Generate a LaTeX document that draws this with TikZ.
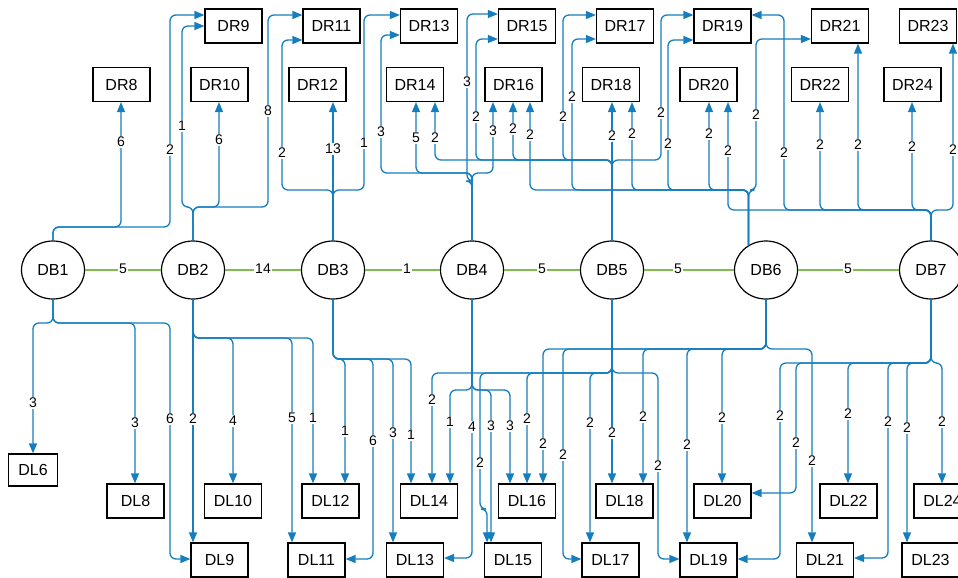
\documentclass[tikz,border=0pt]{standalone}
\usepackage{fontspec}
\setmainfont{Liberation Sans}
\usetikzlibrary{arrows.meta,shapes.geometric}
\definecolor{eblue}{RGB}{22,126,190}
\definecolor{egreen}{RGB}{128,188,78}
\begin{document}
\begin{tikzpicture}[x=1pt,y=-1pt,
 box/.style={draw=black,line width=1.2pt,minimum width=57pt,minimum height=34pt,inner sep=0pt,font=\fontsize{16}{18}\selectfont},
 db/.style={draw=black,line width=1.2pt,ellipse,minimum width=63pt,minimum height=58pt,inner sep=0pt,font=\fontsize{16}{18}\selectfont},
 e/.style={draw=eblue,line width=1.3pt,rounded corners=6pt,-{Triangle[length=10pt,width=8pt]}},
 ge/.style={draw=egreen,line width=1.3pt},
 lbl/.style={fill=white,inner sep=1pt,font=\fontsize{14}{16}\selectfont}]
\useasboundingbox (0,0) rectangle (958,578);
% DB nodes
\node[db] (db1) at (53,270) {DB1};
\node[db] (db2) at (193,270) {DB2};
\node[db] (db3) at (333,270) {DB3};
\node[db] (db4) at (472,270) {DB4};
\node[db] (db5) at (612,270) {DB5};
\node[db] (db6) at (766,270) {DB6};
\node[db] (db7) at (931,270) {DB7};
% DR top row
\node[box] (dr9) at (233.5,26) {DR9};
\node[box] (dr11) at (331.5,26) {DR11};
\node[box] (dr13) at (429,26) {DR13};
\node[box] (dr15) at (527,26) {DR15};
\node[box] (dr17) at (625,26) {DR17};
\node[box] (dr19) at (722.5,26) {DR19};
\node[box] (dr21) at (840,26) {DR21};
\node[box] (dr23) at (928,26) {DR23};
% DR second row
\node[box] (dr8) at (121.5,84.5) {DR8};
\node[box] (dr10) at (219.5,84.5) {DR10};
\node[box] (dr12) at (317.5,84.5) {DR12};
\node[box] (dr14) at (415,84.5) {DR14};
\node[box] (dr16) at (513.5,84.5) {DR16};
\node[box] (dr18) at (611,84.5) {DR18};
\node[box] (dr20) at (708.5,84.5) {DR20};
\node[box] (dr22) at (820,84.5) {DR22};
\node[box] (dr24) at (912.5,84.5) {DR24};
% DL nodes
\node[box,minimum width=49pt,minimum height=32pt] (dl6) at (33,470) {DL6};
\node[box] (dl8) at (135.5,501) {DL8};
\node[box] (dl10) at (233,501) {DL10};
\node[box] (dl12) at (330.5,501) {DL12};
\node[box] (dl14) at (429,501) {DL14};
\node[box] (dl16) at (527,501) {DL16};
\node[box] (dl18) at (624.5,501) {DL18};
\node[box] (dl20) at (722.5,501) {DL20};
\node[box] (dl22) at (848.5,501) {DL22};
\node[box] (dl24) at (942.5,501) {DL24};
\node[box] (dl9) at (219.5,560) {DL9};
\node[box] (dl11) at (316.5,560) {DL11};
\node[box] (dl13) at (415,560) {DL13};
\node[box] (dl15) at (513,560) {DL15};
\node[box] (dl17) at (610.5,560) {DL17};
\node[box] (dl19) at (708.5,560) {DL19};
\node[box] (dl21) at (825,560) {DL21};
\node[box] (dl23) at (930.5,560) {DL23};
% green links
\draw[ge] (db1) -- (db2);
\draw[ge] (db2) -- (db3);
\draw[ge] (db3) -- (db4);
\draw[ge] (db4) -- (db5);
\draw[ge] (db5) -- (db6);
\draw[ge] (db6) -- (db7);
% top edges DB1
\draw[e] (db1.north) -- (53,227) -- (121,227) -- (121,0 |- dr8.south);
\draw[e] (db1.north) -- (53,227) -- (170,227) -- (170,15) -- (dr9.west |- 0,15);
% DB2
\draw[e] (db2.north) -- (193,207) -- (182,207) -- (182,26) -- (dr9.west |- 0,26);
\draw[e] (db2.north) -- (193,207) -- (219,207) -- (219,0 |- dr10.south);
\draw[e] (db2.north) -- (193,207) -- (268,207) -- (268,15) -- (dr11.west |- 0,15);
% DB3
\draw[e] (db3.north) -- (333,190) -- (282,190) -- (282,40) -- (dr11.west |- 0,40);
\draw[e] (db3.north) -- (333,0 |- dr12.south);
\draw[e] (db3.north) -- (333,190) -- (364,190) -- (364,15) -- (dr13.west |- 0,15);
% DB4
\draw[e] (db4.north) -- (472,173) -- (381,173) -- (381,35) -- (dr13.west |- 0,35);
\draw[e] (db4.north) -- (472,173) -- (416,173) -- (416,0 |- dr14.south);
\draw[e] (db4.north) -- (472,181) -- (467,181) -- (467,14) -- (dr15.west |- 0,14);
\draw[e] (db4.north) -- (472,173) -- (493,173) -- (493,0 |- dr16.south);
% DB5
\draw[e] (db5.north) -- (612,160) -- (435,160) -- (435,0 |- dr14.south);
\draw[e] (db5.north) -- (612,160) -- (476,160) -- (476,39) -- (dr15.west |- 0,39);
\draw[e] (db5.north) -- (612,160) -- (513,160) -- (513,0 |- dr16.south);
\draw[e] (db5.north) -- (612,160) -- (563,160) -- (563,15) -- (dr17.west |- 0,15);
\draw[e] (db5.north) -- (612,0 |- dr18.south);
\draw[e] (db5.north) -- (612,160) -- (661,160) -- (661,15) -- (dr19.west |- 0,15);
% DB6
\draw[e] (db6.125) -- (db6.125 |- 0,190) -- (530,190) -- (530,0 |- dr16.south);
\draw[e] (db6.125) -- (db6.125 |- 0,190) -- (572,190) -- (572,39) -- (dr17.west |- 0,39);
\draw[e] (db6.125) -- (db6.125 |- 0,190) -- (632,190) -- (632,0 |- dr18.south);
\draw[e] (db6.125) -- (db6.125 |- 0,190) -- (668,190) -- (668,40) -- (dr19.west |- 0,40);
\draw[e] (db6.125) -- (db6.125 |- 0,190) -- (709,190) -- (709,0 |- dr20.south);
\draw[e] (db6.125) -- (db6.125 |- 0,190) -- (756,190) -- (756,39) -- (dr21.west |- 0,39);
% DB7
\draw[e] (db7.north) -- (931,210) -- (728,210) -- (728,0 |- dr20.south);
\draw[e] (db7.north) -- (931,210) -- (784,210) -- (784,15) -- (dr19.east |- 0,15);
\draw[e] (db7.north) -- (931,210) -- (820,210) -- (820,0 |- dr22.south);
\draw[e] (db7.north) -- (931,210) -- (858,210) -- (858,0 |- dr21.south);
\draw[e] (db7.north) -- (931,210) -- (912,210) -- (912,0 |- dr24.south);
\draw[e] (db7.north) -- (931,210) -- (953,210) -- (953,0 |- dr23.south);
% bottom edges DB1
\draw[e] (db1.south) -- (53,323) -- (33,323) -- (33,0 |- dl6.north);
\draw[e] (db1.south) -- (53,323) -- (135,323) -- (135,0 |- dl8.north);
\draw[e] (db1.south) -- (53,323) -- (170,323) -- (170,559) -- (dl9.west |- 0,559);
% DB2
\draw[e] (db2.south) -- (193,0 |- dl9.north);
\draw[e] (db2.south) -- (193,338) -- (233,338) -- (233,0 |- dl10.north);
\draw[e] (db2.south) -- (193,338) -- (292,338) -- (292,0 |- dl11.north);
\draw[e] (db2.south) -- (193,338) -- (313,338) -- (313,0 |- dl12.north);
% DB3
\draw[e] (db3.south) -- (333,359) -- (345,359) -- (345,0 |- dl12.north);
\draw[e] (db3.south) -- (333,359) -- (373,359) -- (373,559) -- (dl11.east |- 0,559);
\draw[e] (db3.south) -- (333,359) -- (393,359) -- (393,0 |- dl13.north);
\draw[e] (db3.south) -- (333,359) -- (411,359) -- (411,0 |- dl14.north);
% DB4
\draw[e] (db4.south) -- (472,558) -- (dl13.east |- 0,558);
\draw[e] (db4.south) -- (472,390) -- (450,390) -- (450,0 |- dl14.north);
\draw[e] (db4.south) -- (472,390) -- (491,390) -- (491,0 |- dl15.north);
\draw[e] (db4.south) -- (472,390) -- (510,390) -- (510,0 |- dl16.north);
% DB5
\draw[e] (db5.south) -- (612,373) -- (432,373) -- (432,0 |- dl14.north);
\draw[e] (db5.south) -- (612,373) -- (480,373) -- (480,509) -- (487,509) -- (487,0 |- dl15.north);
\draw[e] (db5.south) -- (612,373) -- (527,373) -- (527,0 |- dl16.north);
\draw[e] (db5.south) -- (612,373) -- (590,373) -- (590,0 |- dl17.north);
\draw[e] (db5.south) -- (612,0 |- dl18.north);
\draw[e] (db5.south) -- (612,373) -- (658,373) -- (658,559) -- (dl19.west |- 0,559);
% DB6
\draw[e] (db6.south) -- (766,349) -- (543,349) -- (543,0 |- dl16.north);
\draw[e] (db6.south) -- (766,349) -- (563,349) -- (563,559) -- (dl17.west |- 0,559);
\draw[e] (db6.south) -- (766,349) -- (643,349) -- (643,0 |- dl18.north);
\draw[e] (db6.south) -- (766,349) -- (687,349) -- (687,0 |- dl19.north);
\draw[e] (db6.south) -- (766,349) -- (722,349) -- (722,0 |- dl20.north);
\draw[e] (db6.south) -- (766,349) -- (812,349) -- (812,0 |- dl21.north);
% DB7
\draw[e] (db7.south) -- (931,363) -- (780,363) -- (780,559) -- (dl19.east |- 0,559);
\draw[e] (db7.south) -- (931,363) -- (796,363) -- (796,493) -- (dl20.east |- 0,493);
\draw[e] (db7.south) -- (931,363) -- (848,363) -- (848,0 |- dl22.north);
\draw[e] (db7.south) -- (931,363) -- (888,363) -- (888,558) -- (dl21.east |- 0,558);
\draw[e] (db7.south) -- (931,363) -- (907,363) -- (907,0 |- dl23.north);
\draw[e] (db7.south) -- (931,363) -- (942,363) -- (942,0 |- dl24.north);
% green labels
\node[lbl] (g1) at (123,269) {5};
\node[lbl] (g2) at (263,269) {14};
\node[lbl] (g3) at (407,269) {1};
\node[lbl] (g4) at (542,269) {5};
\node[lbl] (g5) at (678,269) {5};
\node[lbl] (g6) at (848,269) {5};
% top labels
\node[lbl] (t1) at (121,142) {6};
\node[lbl] (t2) at (170,150) {2};
\node[lbl] (t3) at (182,126) {1};
\node[lbl] (t4) at (219,140) {6};
\node[lbl] (t5) at (268,111) {8};
\node[lbl] (t6) at (282,153) {2};
\node[lbl] (t7) at (333,149) {13};
\node[lbl] (t8) at (364,143) {1};
\node[lbl] (t9) at (381,132) {3};
\node[lbl] (t10) at (416,138) {5};
\node[lbl] (t11) at (467,82) {3};
\node[lbl] (t12) at (493,131) {3};
\node[lbl] (t13) at (435,138) {2};
\node[lbl] (t14) at (476,117) {2};
\node[lbl] (t15) at (513,129) {2};
\node[lbl] (t16) at (563,117) {2};
\node[lbl] (t17) at (612,136) {2};
\node[lbl] (t18) at (661,113) {2};
\node[lbl] (t19) at (530,135) {2};
\node[lbl] (t20) at (572,97) {2};
\node[lbl] (t21) at (632,134) {2};
\node[lbl] (t22) at (668,144) {2};
\node[lbl] (t23) at (709,134) {2};
\node[lbl] (t24) at (756,115) {2};
\node[lbl] (t25) at (728,151) {2};
\node[lbl] (t26) at (784,153) {2};
\node[lbl] (t27) at (820,145) {2};
\node[lbl] (t28) at (858,145) {2};
\node[lbl] (t29) at (912,147) {2};
\node[lbl] (t30) at (953,150) {2};
% bottom labels
\node[lbl] (b1) at (33,403) {3};
\node[lbl] (b2) at (135,423) {3};
\node[lbl] (b3) at (170,419) {6};
\node[lbl] (b4) at (193,419) {2};
\node[lbl] (b5) at (233,421) {4};
\node[lbl] (b6) at (292,418) {5};
\node[lbl] (b7) at (313,418) {1};
\node[lbl] (b8) at (345,431) {1};
\node[lbl] (b9) at (373,441) {6};
\node[lbl] (b10) at (393,433) {3};
\node[lbl] (b11) at (411,435) {1};
\node[lbl] (b12) at (472,427) {4};
\node[lbl] (b13) at (450,422) {1};
\node[lbl] (b14) at (491,426) {3};
\node[lbl] (b15) at (510,426) {3};
\node[lbl] (b16) at (432,400) {2};
\node[lbl] (b17) at (480,463) {2};
\node[lbl] (b18) at (527,419) {2};
\node[lbl] (b19) at (590,423) {2};
\node[lbl] (b20) at (612,433) {2};
\node[lbl] (b21) at (658,466) {2};
\node[lbl] (b22) at (543,444) {2};
\node[lbl] (b23) at (563,455) {2};
\node[lbl] (b24) at (643,417) {2};
\node[lbl] (b25) at (687,445) {2};
\node[lbl] (b26) at (722,418) {2};
\node[lbl] (b27) at (812,461) {2};
\node[lbl] (b28) at (780,416) {2};
\node[lbl] (b29) at (796,443) {2};
\node[lbl] (b30) at (848,414) {2};
\node[lbl] (b31) at (888,422) {2};
\node[lbl] (b32) at (907,428) {2};
\node[lbl] (b33) at (942,422) {2};
\end{tikzpicture}
\end{document}
